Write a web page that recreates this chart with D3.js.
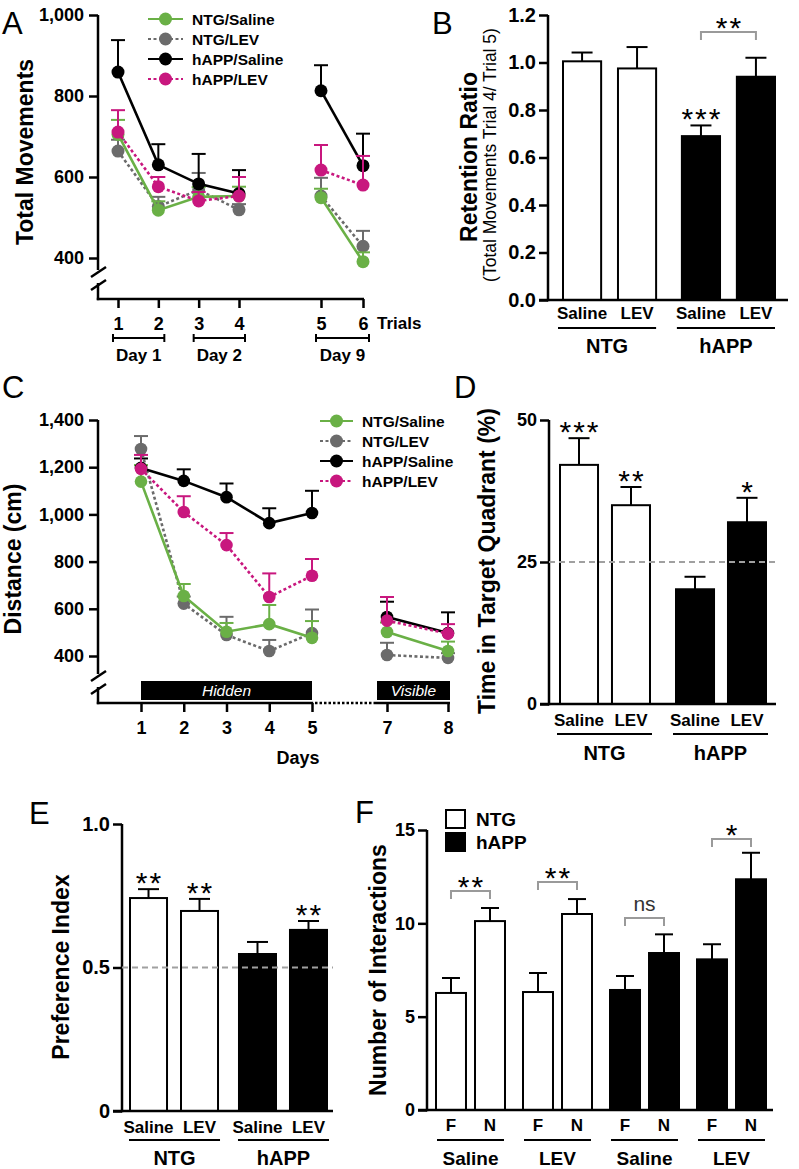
<!DOCTYPE html>
<html><head><meta charset="utf-8">
<script src="https://cdn.jsdelivr.net/npm/d3@7"></script>
<style>body{margin:0;background:#fff}</style>
</head><body><svg id="c" width="799" height="1169"></svg>
<script>
// ================= DATA =================
const seriesNames = ["NTG/Saline","NTG/LEV","hAPP/Saline","hAPP/LEV"];

// Panel A – total movements per trial
const trialsA = [1,2,3,4,5,6];
const segmentA = [0,0,0,0,1,1];
const dayLabelsA = ["Day 1","Day 2","Day 9"];
const dayFromA = [1,3,5];
const dayToA = [2,4,6];
const aMeanNtgSal  = [705,518,551,553,549,391];
const aSemNtgSal   = [36,22,24,23,22,23];
const aMeanNtgLev  = [664,527,568,519,553,429];
const aSemNtgLev   = [28,24,42,14,45,38];
const aMeanHappSal = [859,630,583,559,813,628];
const aSemHappSal  = [79,51,74,58,63,79];
const aMeanHappLev = [711,576,541,553,617,580];
const aSemHappLev  = [54,24,22,47,62,72];
const aTicks = [400,600,800,1000];

// Panel B – retention ratio
const bGroups = ["NTG","hAPP"];
const bSubs = ["Saline","LEV"];
const bMean = [1.005,0.975,0.69,0.94];
const bSem  = [0.037,0.09,0.045,0.08];
const bStars = ["","","***",""];
const bTicks = [0,0.2,0.4,0.6,0.8,1.0,1.2];

// Panel C – distance per day
const daysC = [1,2,3,4,5,7,8];
const segmentC = [0,0,0,0,0,1,1];
const cMeanNtgSal  = [1139,654,503,535,477,502,421];
const cSemNtgSal   = [70,51,37,81,71,40,40];
const cMeanNtgLev  = [1277,622,489,421,497,404,392];
const cSemNtgLev   = [55,30,77,47,100,52,20];
const cMeanHappSal = [1197,1142,1073,963,1006,565,497];
const cSemHappSal  = [40,49,58,63,94,65,88];
const cMeanHappLev = [1193,1010,870,650,740,550,495];
const cSemHappLev  = [59,67,51,100,71,100,40];
const cTicks = [400,600,800,1000,1200,1400];
const cPhases = ["Hidden","Visible"];
const cPhaseFrom = [1,7];
const cPhaseTo = [5,8];

// Panel D – time in target quadrant
const dMean = [42.1,35.0,20.2,32.0];
const dSem  = [4.7,3.2,2.2,4.3];
const dStars = ["***","**","","*"];
const dTicks = [0,25,50];
const dChance = 25;

// Panel E – preference index
const eMean = [0.742,0.697,0.547,0.631];
const eSem  = [0.031,0.042,0.042,0.031];
const eStars = ["**","**","","**"];
const eTicks = [0,0.5,1.0];
const eChance = 0.5;

// Panel F – number of interactions
const fGroupKeys = ["NTG-Saline","NTG-LEV","hAPP-Saline","hAPP-LEV"];
const fGroupLabels = ["Saline","LEV","Saline","LEV"];
const fGenotype = ["NTG","NTG","hAPP","hAPP"];
const fSubs = ["F","N"];
const fMean = [6.27,10.12,6.32,10.5,6.43,8.41,8.07,12.36];
const fSem  = [0.8,0.7,1.02,0.8,0.75,1.0,0.81,1.42];
const fSig  = ["**","**","ns","*"];
const fTicks = [0,5,10,15];
const fLegend = ["NTG","hAPP"];

// ================= STYLE =================
const FONT = '"Liberation Sans", Arial, Helvetica, sans-serif';
const seriesColors = ["#6ab046","#6b6b6b","#000000","#c8177e"];
const seriesDash = [null,"3,2.5",null,"3,2.5"];
const drawOrder = [1,0,2,3];
const genoFill = {NTG:"#fff", hAPP:"#000"};

const svg = d3.select("#c");
svg.append("rect").attr("width",799).attr("height",1169).attr("fill","#fff");

function txt(g, x, y, s, o={}) {
  return g.append("text").attr("x",x).attr("y",y).text(s)
    .attr("font-family",FONT).attr("font-size",o.fs||17)
    .attr("font-weight",o.fw||"bold").attr("fill",o.fill||"#000")
    .attr("text-anchor",o.anchor||"start")
    .attr("font-style",o.style||"normal");
}
function vtxt(g, x, y, s, o={}) {
  return txt(g,0,0,s,Object.assign({anchor:"middle"},o))
    .attr("transform",`translate(${x},${y}) rotate(-90)`);
}
function line(g,x1,y1,x2,y2,col="#000",w=2.5,dash=null){
  const l=g.append("line").attr("x1",x1).attr("y1",y1).attr("x2",x2).attr("y2",y2)
   .attr("stroke",col).attr("stroke-width",w);
  if(dash) l.attr("stroke-dasharray",dash);
  return l;
}
function styleAxis(g, fs){
  g.selectAll("path,line").attr("stroke","#000").attr("stroke-width",2.5);
  g.selectAll("text").attr("font-family",FONT).attr("font-weight","bold")
    .attr("font-size",fs).attr("fill","#000");
}
function panelLetter(x,y,s){ txt(svg,x,y,s,{fs:31,fw:"normal"}); }

// ---------- line panel helper ----------
function drawSeries(g, x, y, xs, seg, means, sems, r, capHalf){
  drawOrder.forEach(i=>{
    const col=seriesColors[i], dash=seriesDash[i];
    const m=means[i], s=sems[i];
    xs.forEach((d,j)=>{
      const top=y(m[j]+s[j]);
      line(g,x(d),y(m[j]),x(d),top,col,2);
      line(g,x(d)-capHalf,top,x(d)+capHalf,top,col,2);
    });
    d3.groups(xs.map((d,j)=>({d,v:m[j],s:seg[j]})), p=>p.s).forEach(([k,pts])=>{
      const p=g.append("path").attr("d",d3.line().x(p=>x(p.d)).y(p=>y(p.v))(pts))
        .attr("fill","none").attr("stroke",col).attr("stroke-width",2.6);
      if(dash) p.attr("stroke-dasharray",dash);
    });
    g.selectAll(null).data(xs).enter().append("circle")
      .attr("cx",d=>x(d)).attr("cy",(d,j)=>y(m[j])).attr("r",r).attr("fill",col);
  });
}
function legend(g, x0, x1, xt, ys, fs){
  seriesNames.forEach((n,i)=>{
    line(g,x0,ys[i],x1,ys[i],seriesColors[i],2.2,seriesDash[i]);
    g.append("circle").attr("cx",(x0+x1)/2).attr("cy",ys[i]).attr("r",6.5).attr("fill",seriesColors[i]);
    txt(g,xt,ys[i]+5.5,n,{fs});
  });
}

// ================= PANEL A =================
{
  const g=svg.append("g");
  const x=d3.scaleLinear().domain([1,4,5,6]).range([118,239,321,363]);
  const y=d3.scaleLinear().domain([400,1000]).range([258,15]);
  const ax=98, base=299;
  const ya=g.append("g").attr("transform",`translate(${ax},0)`)
    .call(d3.axisLeft(y).tickValues(aTicks).tickFormat(d3.format(",")).tickSize(9).tickPadding(5));
  ya.select(".domain").remove(); styleAxis(ya,18);
  line(g,ax,y(1000),ax,270); line(g,ax,283,ax,base+1.2);
  line(g,91,277,106,267); line(g,91,290,106,280);
  line(g,ax-1.2,base,x(6)+1,base);
  const xa=g.append("g").attr("transform",`translate(0,${base})`)
    .call(d3.axisBottom(x).tickValues(trialsA).tickSize(9).tickPadding(9).tickFormat(d3.format("d")));
  xa.select(".domain").remove(); styleAxis(xa,18);
  txt(g,377,329,"Trials",{fs:17});
  dayLabelsA.forEach((d,i)=>{
    const a=x(dayFromA[i])-5, b=x(dayToA[i])+6, yy=338;
    line(g,a,yy,b,yy,"#000",2); line(g,a,yy-4,a,yy+4,"#000",2); line(g,b,yy-4,b,yy+4,"#000",2);
    txt(g,(a+b)/2,361,d,{fs:17,anchor:"middle"});
  });
  drawSeries(g,x,y,trialsA,segmentA,
    [aMeanNtgSal,aMeanNtgLev,aMeanHappSal,aMeanHappLev],
    [aSemNtgSal,aSemNtgLev,aSemHappSal,aSemHappLev],6.5,7);
  legend(g,148,183,192,[19,39,59,79],15.5);
  vtxt(g,33,152,"Total Movements",{fs:23});
  panelLetter(2,34,"A");
}

// ---------- bar panel helper ----------
function barPanel(o){
  const g=svg.append("g");
  const y=d3.scaleLinear().domain(o.domain).range(o.yRange);
  const outer=d3.scaleBand().domain(o.groups).range(o.xRange).paddingInner(o.padG);
  const inner=d3.scaleBand().domain(o.subs).range([0,outer.bandwidth()]).paddingInner(o.padS);
  const ya=g.append("g").attr("transform",`translate(${o.ax},0)`)
    .call(d3.axisLeft(y).tickValues(o.ticks).tickFormat(o.fmt).tickSize(9).tickPadding(3).tickSizeOuter(0));
  styleAxis(ya,o.tickFs);
  ya.select(".domain").attr("d",`M0,${o.yRange[0]+1.2}V${o.yRange[1]}`);
  const bars=[];
  o.groups.forEach((gk,gi)=>o.subs.forEach((sk,si)=>{
    const k=gi*o.subs.length+si;
    bars.push({x:outer(gk)+inner(sk), w:inner.bandwidth(), v:o.mean[k], s:o.sem[k], fill:genoFill[o.geno[gi]]});
  }));
  g.selectAll(null).data(bars).enter().append("rect")
    .attr("x",d=>d.x+1).attr("width",d=>d.w-2)
    .attr("y",d=>y(d.v)).attr("height",d=>y(0)-y(d.v))
    .attr("fill",d=>d.fill).attr("stroke","#000").attr("stroke-width",2);
  bars.forEach(d=>{
    const cx=d.x+d.w/2, top=y(d.v+d.s);
    line(g,cx,y(d.v),cx,top,"#000",2);
    line(g,cx-o.cap,top,cx+o.cap,top,"#000",2);
    d.top=top; d.cx=cx;
  });
  if(o.chance!=null) line(g,o.ax,y(o.chance),o.xEnd,y(o.chance),"#a0a0a0",2.2,"6,4");
  line(g,o.ax-9,o.yRange[0],o.xEnd,o.yRange[0]);
  if(o.stars) o.stars.forEach((s,i)=>{ if(s) txt(g,bars[i].cx+1,bars[i].top-13+17,s,{fs:30,fw:"normal",anchor:"middle"}).attr("letter-spacing",2); });
  o.groups.forEach((gk,gi)=>{
    o.subs.forEach(sk=>txt(g,outer(gk)+inner(sk)+inner.bandwidth()/2,o.subY,sk,{fs:o.subFs,anchor:"middle"}));
    const a=outer(gk)+o.ulExt[0], b=outer(gk)+outer.bandwidth()+o.ulExt[1];
    line(g,a,o.ulY,b,o.ulY,"#000",2);
    txt(g,(a+b)/2,o.gY,o.groupLabels[gi],{fs:o.gFs,anchor:"middle"});
  });
  return {g,y,bars};
}
function bracket(g,x1,x2,yy,label){
  const col="#9a9a9a";
  g.append("path").attr("d",`M${x1},${yy+8}V${yy}H${x2}V${yy+8}`).attr("fill","none")
    .attr("stroke",col).attr("stroke-width",2);
  if(label==="ns") txt(g,(x1+x2)/2,yy-12+5,label,{fs:21,fw:"normal",anchor:"middle",fill:"#333"});
  else txt(g,(x1+x2)/2+1,yy-11+17,label,{fs:30,fw:"normal",anchor:"middle"}).attr("letter-spacing",2);
}

// ================= PANEL B =================
{
  const p=barPanel({groups:bGroups,subs:bSubs,geno:bGroups,groupLabels:bGroups,mean:bMean,sem:bSem,
    domain:[0,1.2],yRange:[300,15],xRange:[562,776],padG:0.2,padS:0.27,ax:548,xEnd:788,
    ticks:bTicks,fmt:d3.format(".1f"),tickFs:20,cap:10.5,stars:bStars,
    subY:319,subFs:17,ulY:328,ulExt:[-4,-1],gY:353,gFs:20});
  bracket(p.g,p.bars[2].cx,p.bars[3].cx,32,"**");
  vtxt(p.g,477,157,"Retention Ratio",{fs:23});
  vtxt(p.g,496,155,"(Total Movements Trial 4/ Trial 5)",{fs:17.5,fw:"normal"});
  panelLetter(432,34,"B");
}

// ================= PANEL C =================
{
  const g=svg.append("g");
  const x=d3.scaleLinear().domain([1,5,7,8]).range([141,312,387,448]);
  const y=d3.scaleLinear().domain([400,1400]).range([656,420]);
  const ax=98, base=703;
  const ya=g.append("g").attr("transform",`translate(${ax},0)`)
    .call(d3.axisLeft(y).tickValues(cTicks).tickFormat(d3.format(",")).tickSize(9).tickPadding(5));
  ya.select(".domain").remove(); styleAxis(ya,18);
  line(g,ax,y(1400),ax,674); line(g,ax,687,ax,base+1.2);
  line(g,91,681,106,671); line(g,91,694,106,684);
  line(g,ax-1.2,base,x(5)+1.2,base);
  line(g,x(5)+3,base,376,base,"#000",2.5,"2.5,2");
  line(g,376,base,x(8)+2,base);
  const xa=g.append("g").attr("transform",`translate(0,${base})`)
    .call(d3.axisBottom(x).tickValues(daysC).tickSize(9).tickPadding(9).tickFormat(d3.format("d")));
  xa.select(".domain").remove(); styleAxis(xa,18);
  cPhases.forEach((ph,i)=>{
    const a=i===0?x(cPhaseFrom[i]):377, b=i===0?x(cPhaseTo[i]):x(cPhaseTo[i])+2;
    g.append("rect").attr("x",a).attr("y",681).attr("width",b-a).attr("height",19).attr("fill","#000");
    txt(g,(a+b)/2,696,ph,{fs:15.5,fw:"normal",style:"italic",fill:"#fff",anchor:"middle"});
  });
  txt(g,298,764,"Days",{fs:18,anchor:"middle"});
  drawSeries(g,x,y,daysC,segmentC,
    [cMeanNtgSal,cMeanNtgLev,cMeanHappSal,cMeanHappLev],
    [cSemNtgSal,cSemNtgLev,cSemHappSal,cSemHappLev],6.3,7);
  legend(g,320,353,362,[421,441,461,481],15.5);
  vtxt(g,21,559,"Distance (cm)",{fs:23});
  panelLetter(2,398,"C");
}

// ================= PANEL D =================
{
  const p=barPanel({groups:bGroups,subs:bSubs,geno:bGroups,groupLabels:bGroups,mean:dMean,sem:dSem,
    domain:[0,50],yRange:[704,420],xRange:[559,767],padG:0.207,padS:0.23,ax:549,xEnd:776,
    ticks:dTicks,fmt:d3.format("d"),tickFs:18,cap:10.5,stars:dStars,chance:dChance,
    subY:726,subFs:17,ulY:734,ulExt:[-2,1],gY:760,gFs:20});
  vtxt(p.g,495,561,"Time in Target Quadrant (%)",{fs:23});
  panelLetter(454,398,"D");
}

// ================= PANEL E =================
{
  const p=barPanel({groups:bGroups,subs:bSubs,geno:bGroups,groupLabels:bGroups,mean:eMean,sem:eSem,
    domain:[0,1],yRange:[1111,824],xRange:[129,328],padG:0.174,padS:0.235,ax:122,xEnd:333,
    ticks:eTicks,fmt:d=>d===0?"0":d.toFixed(1),tickFs:20,cap:10.5,stars:eStars,chance:eChance,
    subY:1133,subFs:17,ulY:1140,ulExt:[0,1],gY:1165,gFs:20});
  vtxt(p.g,69,967,"Preference Index",{fs:23});
  panelLetter(29,824,"E");
}

// ================= PANEL F =================
{
  const p=barPanel({groups:fGroupKeys,subs:fSubs,geno:fGenotype,groupLabels:fGroupLabels,mean:fMean,sem:fSem,
    domain:[0,15],yRange:[1110,830],xRange:[435,767],padG:0.184,padS:0.18,ax:427,xEnd:773,
    ticks:fTicks,fmt:d3.format("d"),tickFs:18,cap:9,
    subY:1131,subFs:17,ulY:1140,ulExt:[2,-2],gY:1165,gFs:19});
  const by=[891,882,918,839];
  fSig.forEach((s,i)=>bracket(p.g,p.bars[2*i].cx,p.bars[2*i+1].cx,by[i],s));
  fLegend.forEach((n,i)=>{
    p.g.append("rect").attr("x",446).attr("y",810+i*23).attr("width",19).attr("height",18)
      .attr("fill",genoFill[n]).attr("stroke","#000").attr("stroke-width",2);
    txt(p.g,476,826+i*23,n,{fs:19});
  });
  vtxt(p.g,386,970,"Number of Interactions",{fs:23});
  panelLetter(355,823,"F");
}
</script></body></html>
